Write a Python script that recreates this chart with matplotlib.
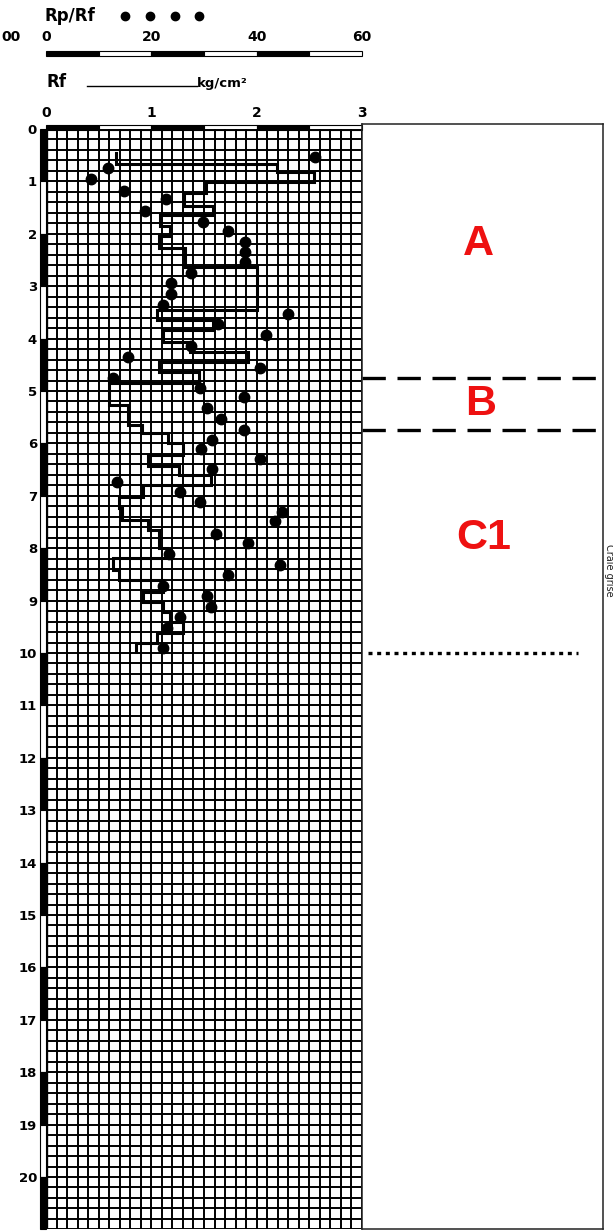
import numpy as np
import matplotlib.pyplot as plt
from matplotlib.patches import Rectangle
from matplotlib.lines import Line2D

W, H = 613, 1232

# Rf step profile: layer boundaries (m) and friction (kg/cm2) inside each layer
rf_bounds = [0.46, 0.66, 0.83, 1.01, 1.23, 1.46, 1.65, 1.86, 2.05, 2.27, 2.63,
             3.45, 3.65, 3.84, 4.06, 4.25, 4.44, 4.63, 4.85, 5.27, 5.65, 5.81,
             6.00, 6.22, 6.44, 6.60, 6.79, 7.02, 7.23, 7.46, 7.65, 8.00, 8.19,
             8.42, 8.61, 8.83, 9.02, 9.21, 9.40, 9.62, 9.81, 9.98]
rf_values = [0.66, 2.19, 2.54, 1.52, 1.31, 1.59, 1.08, 1.18, 1.07, 1.32, 2.00,
             1.05, 1.59, 1.11, 1.37, 1.92, 1.07, 1.45, 0.60, 0.78, 0.91, 1.16,
             1.30, 0.97, 1.26, 1.57, 0.92, 0.69, 0.72, 0.97, 1.07, 1.15, 0.64,
             0.69, 1.11, 0.92, 1.11, 1.18, 1.30, 1.05, 0.85]

# Rp/Rf ratio readings
ratio_depth = [0.54, 0.75, 0.95, 1.18, 1.34, 1.56, 1.77, 1.95, 2.15, 2.34, 2.53,
               2.75, 2.94, 3.15, 3.36, 3.53, 3.73, 3.94, 4.15, 4.35, 4.57, 4.76,
               4.95, 5.12, 5.33, 5.53, 5.74, 5.94, 6.11, 6.30, 6.49, 6.73, 6.92,
               7.11, 7.30, 7.49, 7.72, 7.91, 8.12, 8.32, 8.51, 8.72, 8.91, 9.12,
               9.32, 9.53, 9.91]
ratio_values = [51.0, 11.8, 8.5, 14.8, 22.8, 18.8, 29.8, 34.6, 37.8, 37.8, 37.8,
                27.6, 23.7, 23.7, 22.3, 45.9, 32.6, 41.7, 27.5, 15.6, 40.6, 12.7,
                29.2, 37.6, 30.5, 33.2, 37.6, 31.6, 29.4, 40.6, 31.5, 13.5, 25.4,
                29.2, 44.8, 43.5, 32.3, 38.4, 23.4, 44.4, 34.5, 22.3, 30.5, 31.4,
                25.4, 23.0, 22.3]

layer_names = ['A', 'B', 'C1']
layer_label_depth = [2.2, 5.25, 7.8]
layer_limits = [4.75, 5.75]
dotted_limit = 10.0

rf_ticks = [0, 1, 2, 3]
ratio_ticks = [0, 20, 40, 60]
depth_max = 21


def fx(x):
    return x / W


def fy(y):
    return 1 - y / H


fig = plt.figure(figsize=(W / 100, H / 100), dpi=100)
fig.patch.set_facecolor('white')

# main grid panel: x 0-3 kg/cm2 between px 46..362, depth 0-21 between px 129..1229
x0, x1, y0, y1 = 46, 362, 129, 129 + 21 * 52.4
ax = fig.add_axes([fx(x0), fy(y1), (x1 - x0) / W, (y1 - y0) / H])
ax.set_xlim(0, 3)
ax.set_ylim(depth_max, 0)
ax.set_xticks([])
ax.set_yticks([])
for s in ax.spines.values():
    s.set_visible(False)

ax.vlines(np.arange(0, 3.001, 0.1), 0, depth_max, color='black', lw=1.4)
ax.hlines(np.arange(0, depth_max + 0.001, 0.2), 0, 3, color='black', lw=1.4)
ax.vlines([0], 0, depth_max, color='black', lw=2.4)

# depth scale bar on the left
for d in range(depth_max):
    ax.add_patch(Rectangle((-0.057, d), 0.057, 1,
                           facecolor='black' if d % 2 == 0 else 'white',
                           edgecolor='black', lw=0.8, clip_on=False))
    ax.text(-0.085, d + 0.03, str(d), ha='right', va='center',
            fontsize=9.5, fontweight='bold', clip_on=False)

# Rf scale bar across the top
for i in range(6):
    ax.add_patch(Rectangle((i * 0.5, -0.085), 0.5, 0.095,
                           facecolor='black' if i % 2 == 0 else 'white',
                           edgecolor='black', lw=0.8, clip_on=False))
for t in rf_ticks:
    ax.text(t, -0.3, str(t), ha='center', va='center',
            fontsize=10, fontweight='bold', clip_on=False)

# Rp/Rf scale bar (0-60 spans the same width as 0-3)
for i in range(6):
    ax.add_patch(Rectangle((i * 0.5, -1.497), 0.5, 0.095,
                           facecolor='black' if i % 2 == 0 else 'white',
                           edgecolor='black', lw=0.8, clip_on=False))
for t in ratio_ticks:
    ax.text(t / 20, -1.75, str(t), ha='center', va='center',
            fontsize=10, fontweight='bold', clip_on=False)

# Rf step line
ys = np.repeat(rf_bounds, 2)[1:-1]
xs = np.repeat(rf_values, 2)
ax.plot(xs, ys, color='black', lw=2.2, solid_joinstyle='miter')

# Rp/Rf points
ax.plot(np.array(ratio_values) / 20, ratio_depth, 'o', color='black',
        markersize=7.5, linestyle='none')

# header texts
fig.text(fx(45), fy(16), 'Rp/Rf', fontsize=12, fontweight='bold', va='center')
for px in [125, 150, 175, 199]:
    fig.add_artist(Line2D([fx(px)], [fy(16)], marker='o', color='black',
                          markersize=6))
fig.text(fx(1), fy(37), '00', fontsize=10, fontweight='bold',
         ha='left', va='center')
fig.text(fx(46), fy(82), 'Rf', fontsize=12, fontweight='bold', va='center')
fig.add_artist(Line2D([fx(87), fx(197)], [fy(86), fy(86)], color='black', lw=1))
fig.text(fx(197), fy(83), 'kg/cm²', fontsize=9.5, fontweight='bold',
         va='center')

# right panel with layer description
rx0, rx1, ry0 = 362, 603, 124
rax = fig.add_axes([fx(rx0), fy(y1), (rx1 - rx0) / W, (y1 - ry0) / H])
rax.set_xlim(0, 1)
rax.set_ylim(depth_max, (ry0 - y0) / 52.4)
rax.set_xticks([])
rax.set_yticks([])
rax.patch.set_alpha(0)
for s in rax.spines.values():
    s.set_linewidth(1.1)
    s.set_color('#222222')

for d in layer_limits:
    rax.plot([0, 0.985], [d, d], color='black', lw=2.4, dashes=(7, 3.5))
rax.plot([0.025, 0.896], [dotted_limit, dotted_limit], color='black',
         lw=2.4, dashes=(1.2, 1.4))

for name, d, xp in zip(layer_names, layer_label_depth, [0.485, 0.494, 0.506]):
    rax.text(xp, d, name, ha='center', va='center', color='#ee1111',
             fontsize=31, fontweight='bold', family='Liberation Sans')

fig.text(fx(604), fy(570), 'Craie grise', rotation=-90, fontsize=7,
         ha='left', va='center', color='#222222')

fig.savefig('out.png', dpi=100, facecolor='white')
